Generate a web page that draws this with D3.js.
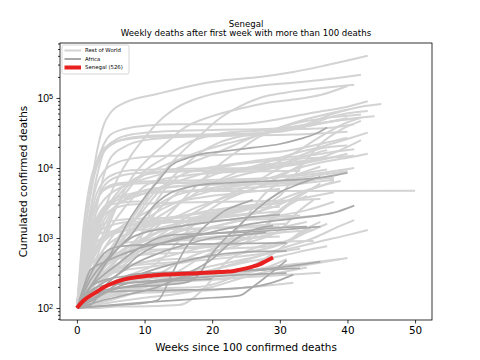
<!DOCTYPE html>
<html>
<head>
<meta charset="utf-8">
<script src="https://cdn.jsdelivr.net/npm/d3@7"></script>
<style>
  body { margin: 0; background: #fff; }
  svg { font-family: "DejaVu Sans", sans-serif; }
</style>
</head>
<body>
<svg id="chart" width="480" height="360"></svg>
<script>
// weekly cumulated deaths, [week, deaths]
var worldLines = [
  [[0,100],[1,900],[2,4500],[3,18000],[4,42000],[5,62000],[7,85000],[12,115000],[17,150000],[22,180000],[27,200000],[32,235000],[37,295000],[43,400000]],
  [[0,100],[2,600],[4,2500],[6,7000],[8,15000],[10,27000],[12,45000],[15,75000],[18,100000],[22,125000],[27,150000],[32,165000],[37,185000],[42,215000]],
  [[0,100],[3,300],[6,900],[9,2500],[12,7000],[15,15000],[18,28000],[21,50000],[24,75000],[27,100000],[31,120000],[36,138000],[41,155000]],
  [[0,100],[2,300],[4,1000],[6,3000],[8,7000],[10,12000],[13,22000],[16,38000],[20,55000],[24,70000],[28,85000],[32,95000],[36,110000],[40,148000]],
  [[0,100],[1,900],[2,4000],[3,12000],[4,22000],[5,30000],[7,36000],[10,40000],[15,42000],[20,42000],[25,43000],[30,50000],[35,62000],[40,75000],[43,90000]],
  [[0,100],[1,1000],[2,4800],[3,11000],[4,18000],[6,26000],[8,30000],[12,33000],[20,35000],[28,36000],[33,40000],[38,60000],[42,75000],[45,82000]],
  [[0,100],[1,500],[2,2500],[3,8000],[4,17000],[6,24000],[9,28000],[14,29500],[22,30500],[30,33000],[34,40000],[38,55000],[43,65000]],
  [[0,100],[1,1500],[2,6500],[3,13000],[4,19000],[6,24000],[9,27000],[14,28500],[22,29500],[28,32000],[34,40000],[40,50000],[44,55000]],
  [[0,100],[1,300],[2,800],[3,1500],[5,3000],[7,5000],[10,8000],[14,12000],[18,17000],[22,22000],[26,28000],[30,38000],[34,50000],[38,62000],[40,68000]],
  [[0,100],[1,400],[2,1200],[3,2500],[4,3500],[6,5000],[9,6500],[13,8500],[17,12000],[21,17000],[25,25000],[29,35000],[33,45000],[37,52000],[42,58000]],
  [[0,100],[2,250],[4,500],[6,1000],[9,2000],[12,4500],[15,9000],[18,16000],[21,23000],[24,28000],[28,32000],[32,36000],[36,43000],[40,52000]],
  [[0,100],[3,250],[6,500],[9,800],[12,1500],[15,3000],[18,6000],[21,11000],[24,18000],[27,28000],[30,36000],[33,40000],[36,44000],[39,48000],[42,52000]],
  [[0,100],[2,400],[4,1200],[6,3000],[8,5500],[10,9000],[13,14000],[16,22000],[19,28000],[22,32000],[27,34000],[33,36000],[38,38000],[41,42000]],
  [[0,100],[1,400],[2,1500],[3,3500],[4,5500],[6,7500],[9,8500],[15,9000],[22,9400],[28,10500],[32,16000],[36,28000],[40,45000],[42,52000]],
  [[0,100],[3,400],[6,800],[10,1200],[15,1600],[20,2000],[25,2500],[30,4000],[33,10000],[36,22000],[39,35000],[42,47000]],
  [[0,100],[2,400],[5,700],[8,1200],[12,2000],[16,3500],[20,6000],[24,9000],[28,12000],[32,16000],[36,20000],[40,26000],[43,32000]],
  [[0,100],[1,500],[2,2000],[3,4500],[4,6500],[6,8500],[8,9300],[15,9700],[25,10000],[30,11000],[33,15000],[36,19000],[40,21000]],
  [[0,100],[1,600],[2,1800],[3,3500],[4,4800],[6,5700],[9,6000],[20,6300],[28,7000],[32,9500],[36,12000],[40,14000],[43,16000]],
  [[0,100],[2,500],[3,1200],[4,2200],[6,4500],[8,6500],[10,8000],[14,8800],[22,9200],[28,9800],[32,11000],[36,13000],[40,16000]],
  [[0,100],[3,200],[6,400],[9,800],[11,2500],[13,5000],[15,7500],[18,9500],[22,11000],[26,12500],[30,14000],[34,15000],[38,17000],[41,18500]],
  [[0,100],[1,250],[2,600],[4,1500],[6,3000],[9,4000],[12,5000],[15,6500],[18,8000],[22,10500],[26,12000],[30,13000],[34,13800],[38,14200],[41,15000]],
  [[0,100],[1,500],[2,1200],[3,2000],[5,3400],[8,4300],[12,5000],[16,5600],[20,6200],[24,7800],[28,9500],[32,11500],[36,14000],[40,20000],[42,25000]],
  [[0,100],[1,300],[2,800],[3,1800],[4,2600],[5,3000],[6,3150],[8,3300],[10,3350],[11,4600],[14,4634],[30,4700],[50,4740]],
  [[0,100],[2,500],[4,1800],[6,3000],[8,4000],[10,4800],[13,5300],[18,5700],[25,5850],[30,6000],[34,6500],[37,7500],[40,9000]],
  [[0,100],[3,300],[6,600],[10,900],[14,1200],[18,2000],[22,3500],[26,5000],[30,6500],[34,7500],[38,8500],[40,9000]],
  [[0,100],[2,200],[5,500],[8,1500],[10,3000],[12,5000],[14,6000],[18,6200],[22,6400],[26,6700],[30,7500],[34,8500],[37,9500]],
  [[0,100],[3,300],[6,800],[9,1500],[12,2400],[15,3300],[18,4200],[21,5000],[25,5700],[30,6200],[35,6900],[38,7200]],
  [[0,100],[3,200],[6,400],[9,1000],[12,2500],[15,4500],[18,6500],[21,8500],[25,10000],[29,11500],[33,12500],[36,13000]],
  [[0,100],[2,300],[4,700],[7,1100],[10,1400],[14,1900],[18,2800],[22,3800],[26,5000],[30,7500],[34,12000],[37,14000]],
  [[0,100],[3,300],[6,600],[10,1000],[14,1500],[18,2500],[22,4000],[26,6000],[30,10000],[34,15000],[37,18000]],
  [[0,100],[2,400],[4,1000],[6,2000],[8,3500],[10,5500],[13,7000],[17,8000],[22,8700],[28,9000],[33,9100]],
  [[0,100],[1,400],[2,900],[3,1300],[4,1600],[6,1800],[10,1900],[20,2000],[26,2200],[30,3500],[33,4500],[36,5500],[38,6500]],
  [[0,100],[1,300],[2,600],[3,900],[5,1100],[10,1500],[18,1800],[25,2200],[30,3000],[33,4200],[36,5500],[39,6500]],
  [[0,100],[3,250],[6,330],[12,400],[18,500],[22,800],[25,2000],[28,4500],[31,7000],[34,9000],[36,10500]],
  [[0,100],[2,300],[4,700],[6,1300],[9,2000],[12,2800],[15,3300],[20,4000],[25,4500],[30,5000]],
  [[0,100],[3,200],[6,500],[9,1000],[12,1600],[15,2000],[20,2500],[25,2900],[30,3100]],
  [[0,100],[4,200],[8,300],[12,450],[15,900],[18,1800],[21,2500],[25,2800],[29,3100],[33,3700]],
  [[0,100],[3,300],[6,800],[9,900],[14,1000],[18,1200],[22,1600],[26,1900],[30,2100],[34,2500],[38,3300]],
  [[0,100],[3,300],[6,500],[10,580],[16,620],[22,700],[26,1000],[30,2500],[33,4000],[36,6000]],
  [[0,100],[2,300],[4,550],[8,650],[14,700],[20,750],[26,900],[30,1300],[33,2500],[35,3500]],
  [[0,100],[1,300],[2,700],[3,1200],[5,1500],[8,1700],[14,1760],[22,1800],[28,2000],[33,2100]],
  [[0,100],[2,200],[4,400],[6,800],[9,1600],[12,3000],[15,4200],[19,5000],[24,5800],[30,6100],[34,6200]],
  [[0,100],[2,200],[5,300],[8,500],[11,900],[14,1400],[17,1900],[21,2300],[25,2600],[30,2800]],
  [[0,100],[2,300],[5,500],[9,700],[13,1000],[17,1500],[21,2000],[25,2200],[30,2400]],
  [[0,100],[3,300],[6,600],[9,900],[12,1200],[18,1700],[24,2500],[28,3400],[30,4500]],
  [[0,100],[3,250],[6,500],[9,800],[12,1200],[16,1700],[20,2100],[24,2500]],
  [[0,100],[5,120],[10,140],[15,160],[20,200],[25,280],[30,360],[35,430],[40,520]],
  [[0,100],[5,150],[10,200],[15,260],[20,350],[25,450],[30,550],[35,700],[37,760]],
  [[0,100],[5,130],[10,180],[15,250],[20,350],[25,480],[30,700],[35,1000],[39,1500],[41,1800]],
  [[0,100],[5,150],[10,220],[15,300],[20,400],[25,500],[30,650],[35,850],[40,1100],[43,1300]],
  [[0,100],[4,200],[8,260],[12,300],[18,320],[24,330],[28,380],[31,500]],
  [[0,100],[3,180],[6,220],[10,240],[15,260],[20,290],[25,330],[29,400]],
  [[0,100],[2,250],[4,400],[7,600],[10,800],[14,900],[19,950],[25,1000],[30,1050]],
  [[0,100],[2,150],[4,200],[6,230],[10,260],[15,280],[20,290],[25,320],[30,400],[35,450],[39,500]],
  [[0,100],[3,100],[6,105],[9,105],[15,110],[19,200],[22,450],[25,650],[28,810],[32,900],[35,905]],
  [[0,100],[3,150],[6,170],[12,190],[18,200],[22,250],[26,400],[30,700],[33,1200],[36,1700]],
  [[0,100],[4,150],[8,200],[12,300],[16,500],[20,700],[24,900],[28,1500],[31,2800],[34,4000]],
  [[0,100],[3,200],[6,400],[10,700],[14,1000],[18,1300],[22,1600],[26,1900],[30,2300]],
  [[0,100],[3,180],[6,230],[10,260],[14,300],[18,500],[22,700],[28,750],[32,1000],[35,1500]],
  [[0,100],[3,200],[6,400],[9,700],[12,1000],[16,1300],[20,1400],[26,1500],[31,1600]],
  [[0,100],[3,200],[6,400],[10,600],[14,700],[20,800],[26,1000],[31,1250]],
  [[0,100],[1,600],[2,1000],[4,1200],[8,1300],[16,1350],[24,1400],[30,1450]],
  [[0,100],[1,200],[2,600],[3,1500],[5,2500],[8,3000],[14,3200],[22,3300],[30,3400],[36,3600]],
  [[0,100],[1,300],[2,1500],[3,3500],[4,5000],[6,6000],[10,6400],[18,6700],[26,7000],[34,8000],[41,10000]],
  [[0,100],[2,120],[4,140],[8,160],[14,170],[20,180],[26,200],[32,230]],
  [[0,100],[2,140],[5,180],[10,210],[16,240],[22,260],[28,300],[34,380]],
  [[0,100],[1,250],[2,500],[3,800],[5,1200],[8,1500],[14,1700],[22,1800],[30,1900],[36,2100]],
  [[0,100],[1,200],[2,450],[4,900],[6,1300],[10,1700],[16,2100],[24,2600],[32,3500],[38,4500]],
  [[0,100],[2,180],[4,300],[7,500],[10,700],[14,900],[18,1000],[24,1100],[30,1200],[35,1300]],
  [[0,100],[1,180],[3,300],[6,380],[10,420],[16,460],[22,520],[28,600],[33,700]],
  [[0,100],[2,200],[4,320],[8,420],[12,480],[18,520],[24,600],[30,800],[34,1200],[37,1600]],
  [[0,100],[1,350],[2,900],[3,1700],[4,2500],[6,3500],[9,4200],[14,4600],[22,5000],[30,5600],[38,6800]],
  [[0,100],[1,700],[2,2500],[3,6000],[4,9000],[6,12000],[9,14000],[14,15000],[22,15500],[30,17000],[36,22000],[40,27000]],
  [[0,100],[2,900],[3,3000],[4,8000],[5,14000],[7,20000],[10,25000],[16,28000],[24,29000],[32,30000],[40,33000]],
  [[0,100],[1,150],[3,250],[6,350],[10,450],[15,600],[20,800],[25,1100],[30,1400],[34,1700]],
  [[0,100],[3,130],[6,160],[10,200],[14,230],[20,260],[26,280],[32,300],[36,320]]
];

var africaLines = [
  [[0,100],[2,200],[4,400],[6,900],[8,2000],[10,3800],[12,6500],[14,11000],[16,13500],[18,15500],[22,17500],[26,19500],[30,22000],[33,26000],[35,30000],[37,38000]],
  [[0,100],[2,250],[4,450],[6,700],[8,1100],[10,2000],[12,3300],[14,4500],[16,5200],[18,5700],[22,6100],[28,6500],[34,7000],[38,7800],[40,8500]],
  [[0,100],[4,180],[8,200],[12,210],[16,230],[18,300],[20,600],[22,1000],[24,1500],[26,2300],[28,3300],[30,4500],[32,5500],[34,6500],[36,7500]],
  [[0,100],[1,200],[2,350],[4,450],[6,550],[8,650],[10,750],[14,900],[18,1100],[22,1350],[26,1600],[30,1800],[34,2000],[38,2300],[41,2900]],
  [[0,100],[2,200],[4,300],[6,420],[8,600],[10,800],[12,1000],[14,1100],[18,1150],[24,1200],[30,1300],[36,1450]],
  [[0,100],[3,200],[6,300],[9,550],[12,800],[15,1000],[18,1100],[22,1200],[26,1300],[30,1400],[34,1450]],
  [[0,100],[2,200],[4,400],[6,700],[8,1000],[10,1200],[14,1400],[18,1600],[22,1800],[26,2000],[30,2150]],
  [[0,100],[2,300],[4,600],[6,750],[10,800],[16,820],[22,830],[26,840],[31,850]],
  [[0,100],[3,150],[6,190],[10,220],[15,260],[20,280],[25,300],[31,316]],
  [[0,100],[2,150],[4,200],[6,250],[8,300],[12,320],[18,330],[24,340],[30,380],[36,460]],
  [[0,100],[3,105],[6,110],[9,115],[12,130],[14,300],[16,700],[18,1200],[20,1800],[22,2500],[24,3000],[26,3500]],
  [[0,100],[2,110],[4,200],[8,400],[12,600],[16,800],[20,1000],[24,1100],[28,1200]],
  [[0,100],[2,200],[4,250],[8,290],[12,310],[16,320],[20,330],[24,340],[28,350]],
  [[0,100],[3,200],[6,220],[10,240],[14,260],[18,300],[22,320],[26,350],[30,360],[33,370]],
  [[0,100],[2,130],[4,160],[6,200],[8,230],[12,240],[16,250],[20,260]],
  [[0,100],[5,110],[10,120],[15,130],[20,140],[24,150],[26,200],[28,280],[30,400],[31,480]],
  [[0,100],[4,130],[8,160],[12,200],[16,300],[20,500],[23,900],[26,1300],[29,1500]],
  [[0,100],[2,150],[4,170],[8,175],[14,180],[20,185],[26,200],[30,250],[32,300]],
  [[0,100],[3,140],[6,220],[10,320],[14,420],[18,520],[22,600],[26,640],[31,650]]
];

var senegalDeaths = [100,128,150,172,198,220,240,256,268,278,285,290,296,300,303,306,309,312,315,318,322,326,330,336,350,368,390,420,470,526];

var xTicks = [0, 10, 20, 30, 40, 50];
var yMajorTicks = [100, 1000, 10000, 100000];
var legendLabels = ['Rest of World', 'Africa', 'Senegal (526)'];

var svg = d3.select('#chart');
var plotLeft = 60, plotRight = 432, plotTop = 43, plotBottom = 320;

var x = d3.scaleLinear().domain([-2.5, 52.5]).range([plotLeft, plotRight]);
var y = d3.scaleLog().domain([67.4, 610000]).range([plotBottom, plotTop]);

var line = d3.line()
    .x(d => x(d[0]))
    .y(d => y(d[1]))
    .curve(d3.curveMonotoneX);

var plot = svg.append('g');

plot.selectAll('path.world')
    .data(worldLines)
    .enter()
    .append('path')
    .attr('class', 'world')
    .attr('d', line)
    .attr('fill', 'none')
    .attr('stroke', '#d3d3d3')
    .attr('stroke-width', 2);

plot.selectAll('path.africa')
    .data(africaLines)
    .enter()
    .append('path')
    .attr('class', 'africa')
    .attr('d', line)
    .attr('fill', 'none')
    .attr('stroke', '#a9a9a9')
    .attr('stroke-width', 1.7);

plot.append('path')
    .datum(senegalDeaths.map((v, i) => [i, v]))
    .attr('d', line)
    .attr('fill', 'none')
    .attr('stroke', '#e8201f')
    .attr('stroke-width', 4);

// axes
var xAxis = d3.axisBottom(x).tickValues(xTicks).tickSize(3.5).tickPadding(3.5);
var gx = svg.append('g')
    .attr('transform', `translate(0,${plotBottom})`)
    .call(xAxis);

var yMinor = [];
[10, 100, 1000, 10000, 100000].forEach(function (b) {
    for (var k = 2; k <= 9; k++) {
        var v = b * k;
        if (v >= y.domain()[0] && v <= y.domain()[1]) yMinor.push(v);
    }
});

var gyMinor = svg.append('g')
    .attr('transform', `translate(${plotLeft},0)`)
    .call(d3.axisLeft(y).tickValues(yMinor).tickSize(2).tickFormat(''));

var gy = svg.append('g')
    .attr('transform', `translate(${plotLeft},0)`)
    .call(d3.axisLeft(y).tickValues(yMajorTicks).tickSize(3.5).tickFormat(''));

gy.selectAll('.tick').append('text')
    .attr('x', -7)
    .attr('dy', '0.35em')
    .attr('text-anchor', 'end')
    .attr('fill', '#000')
    .style('font-size', '10.4px')
    .each(function (d) {
        var t = d3.select(this);
        t.append('tspan').text('10');
        t.append('tspan')
            .attr('dy', '-0.45em')
            .style('font-size', '7.3px')
            .text(Math.round(Math.log10(d)));
    });

[gx, gy, gyMinor].forEach(function (g) {
    g.select('.domain').remove();
    g.selectAll('line').attr('stroke', '#000').attr('stroke-width', 0.8);
});
gx.selectAll('text').style('font-size', '10.4px').attr('fill', '#000').style('font-family', 'DejaVu Sans');

// frame
svg.append('rect')
    .attr('x', plotLeft).attr('y', plotTop)
    .attr('width', plotRight - plotLeft).attr('height', plotBottom - plotTop)
    .attr('fill', 'none')
    .attr('stroke', '#000')
    .attr('stroke-width', 0.8);

// labels
svg.append('text')
    .attr('x', (plotLeft + plotRight) / 2).attr('y', 351)
    .attr('text-anchor', 'middle')
    .style('font-size', '10.4px')
    .text('Weeks since 100 confirmed deaths');

svg.append('text')
    .attr('transform', `translate(27,${(plotTop + plotBottom) / 2}) rotate(-90)`)
    .attr('text-anchor', 'middle')
    .style('font-size', '10.4px')
    .text('Cumulated confirmed deaths');

svg.append('text')
    .attr('x', (plotLeft + plotRight) / 2).attr('y', 27)
    .attr('text-anchor', 'middle')
    .style('font-size', '8.6px')
    .text('Senegal');

svg.append('text')
    .attr('x', (plotLeft + plotRight) / 2).attr('y', 36)
    .attr('text-anchor', 'middle')
    .style('font-size', '8.6px')
    .text('Weekly deaths after first week with more than 100 deaths');

// legend
var legend = svg.append('g').attr('transform', `translate(${plotLeft + 2},${plotTop + 2})`);
legend.append('rect')
    .attr('width', 67).attr('height', 29).attr('rx', 1.5)
    .attr('fill', '#fff').attr('fill-opacity', 0.8)
    .attr('stroke', '#ccc').attr('stroke-width', 0.8);

var legendStyles = [
    { color: '#d3d3d3', width: 2 },
    { color: '#a9a9a9', width: 2 },
    { color: '#e8201f', width: 4 }
];

legendLabels.forEach(function (label, i) {
    var ly = 5.5 + i * 8.5;
    legend.append('line')
        .attr('x1', 2.5).attr('x2', 19)
        .attr('y1', ly).attr('y2', ly)
        .attr('stroke', legendStyles[i].color)
        .attr('stroke-width', legendStyles[i].width);
    legend.append('text')
        .attr('x', 23).attr('y', ly)
        .attr('dy', '0.35em')
        .style('font-size', '5.4px')
        .text(label);
});
</script>
</body>
</html>
